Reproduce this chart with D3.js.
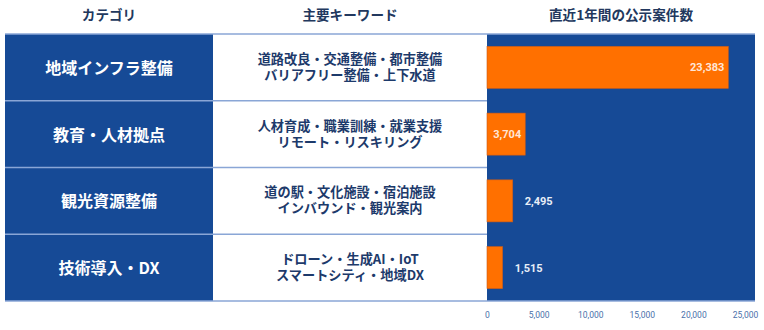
<!DOCTYPE html>
<html><head><meta charset="utf-8">
<script src="https://cdn.jsdelivr.net/npm/d3@7"></script>
<style>
html,body{margin:0;padding:0;background:#fff;}
svg{display:block;font-family:"Noto Sans CJK JP","Noto Sans",sans-serif;}
</style></head>
<body><svg id="c" width="764" height="330"></svg>
<script>
const headers = ["カテゴリ", "主要キーワード", "直近1年間の公示案件数"];
const categories = ["地域インフラ整備", "教育・人材拠点", "観光資源整備", "技術導入・DX"];
const keywords = [
  ["道路改良・交通整備・都市整備", "バリアフリー整備・上下水道"],
  ["人材育成・職業訓練・就業支援", "リモート・リスキリング"],
  ["道の駅・文化施設・宿泊施設", "インバウンド・観光案内"],
  ["ドローン・生成AI・IoT", "スマートシティ・地域DX"]
];
const values = [23383, 3704, 2495, 1515];
const tickValues = [0, 5000, 10000, 15000, 20000, 25000];

(function () {
const svg = d3.select("#c");
const blue = "#164a96", orange = "#ff7000", lineCol = "#8aa6d6", navy = "#1d3a6b";
const colL = 5, colM = 213, colR = 487, colEnd = 755;
const yTop = 34, yBottom = 301;

const y = d3.scaleBand().domain(categories).range([yTop, yBottom]).paddingInner(0).paddingOuter(0);
const yBar = d3.scaleBand().domain(categories).range([yTop, yBottom]).paddingInner(0.37).paddingOuter(0.185);
const x = d3.scaleLinear().domain([0, 25000]).range([colR, 745]);

// headers
const hx = [(colL + colM) / 2, (colM + colR) / 2, (colR + colEnd) / 2];
svg.selectAll("text.hdr").data(headers).join("text").attr("class", "hdr")
  .attr("x", (d, i) => hx[i]).attr("y", 20).attr("text-anchor", "middle")
  .attr("font-size", 13.6).attr("font-weight", "bold").attr("fill", "#22385e").text(d => d);

// backgrounds
svg.append("rect").attr("x", colL).attr("y", yTop).attr("width", colM - colL).attr("height", yBottom - yTop).attr("fill", blue);
svg.append("rect").attr("x", colR).attr("y", yTop).attr("width", colEnd - colR).attr("height", yBottom - yTop).attr("fill", blue);

// category labels
svg.selectAll("text.cat").data(categories).join("text").attr("class", "cat")
  .attr("x", (colL + colM) / 2).attr("y", d => y(d) + y.bandwidth() / 2 + 6.5)
  .attr("text-anchor", "middle").attr("font-size", 16).attr("font-weight", "bold").attr("fill", "#fff").text(d => d);

// keywords
const kw = svg.selectAll("text.kw").data(keywords).join("text").attr("class", "kw")
  .attr("text-anchor", "middle").attr("font-size", 13.2).attr("font-weight", "bold").attr("fill", navy);
kw.each(function(d, i) {
  const cy = y(categories[i]) + y.bandwidth() / 2;
  d3.select(this).selectAll("tspan").data(d).join("tspan")
    .attr("x", (colM + colR) / 2).attr("y", (t, j) => cy - 3.5 + j * 16).text(t => t);
});

// row separator lines
const lines = [yTop].concat(categories.map(c => y(c) + y.bandwidth()));
svg.selectAll("line.sep").data(lines).join("line").attr("class", "sep")
  .attr("x1", colL).attr("x2", (d, i) => (i === 0 || i === lines.length - 1) ? colEnd : colR)
  .attr("y1", d => d).attr("y2", d => d).attr("stroke", lineCol).attr("stroke-width", 1.5);

// bars
svg.selectAll("rect.bar").data(values).join("rect").attr("class", "bar")
  .attr("x", x(0)).attr("y", (d, i) => yBar(categories[i]))
  .attr("width", d => x(d) - x(0)).attr("height", yBar.bandwidth())
  .attr("fill", orange).attr("stroke", "#c85a1a").attr("stroke-width", 0.6);

// value labels
const fmt = d3.format(",");
svg.selectAll("text.val").data(values).join("text").attr("class", "val")
  .attr("font-family", "Roboto, Arial, sans-serif").attr("font-size", 11).attr("font-weight", "bold")
  .attr("y", (d, i) => yBar(categories[i]) + yBar.bandwidth() / 2 + 4)
  .each(function(d) {
    const inside = (x(d) - x(0)) > 36;
    d3.select(this).attr("x", inside ? x(d) - 4 : x(d) + 12)
      .attr("text-anchor", inside ? "end" : "start")
      .attr("fill", inside ? "#ffe6d6" : "#e8eef8");
  }).text(d => fmt(d));

// axis
const axis = d3.axisBottom(x).tickValues(tickValues).tickFormat(fmt).tickSize(0).tickPadding(0);
const g = svg.append("g").attr("transform", `translate(0,${yBottom + 11})`).call(axis);
g.select(".domain").remove();
g.selectAll("text").attr("font-family", "Roboto, Arial, sans-serif").attr("font-size", 8.5).attr("fill", "#4a70aa");
})();
</script></body></html>
